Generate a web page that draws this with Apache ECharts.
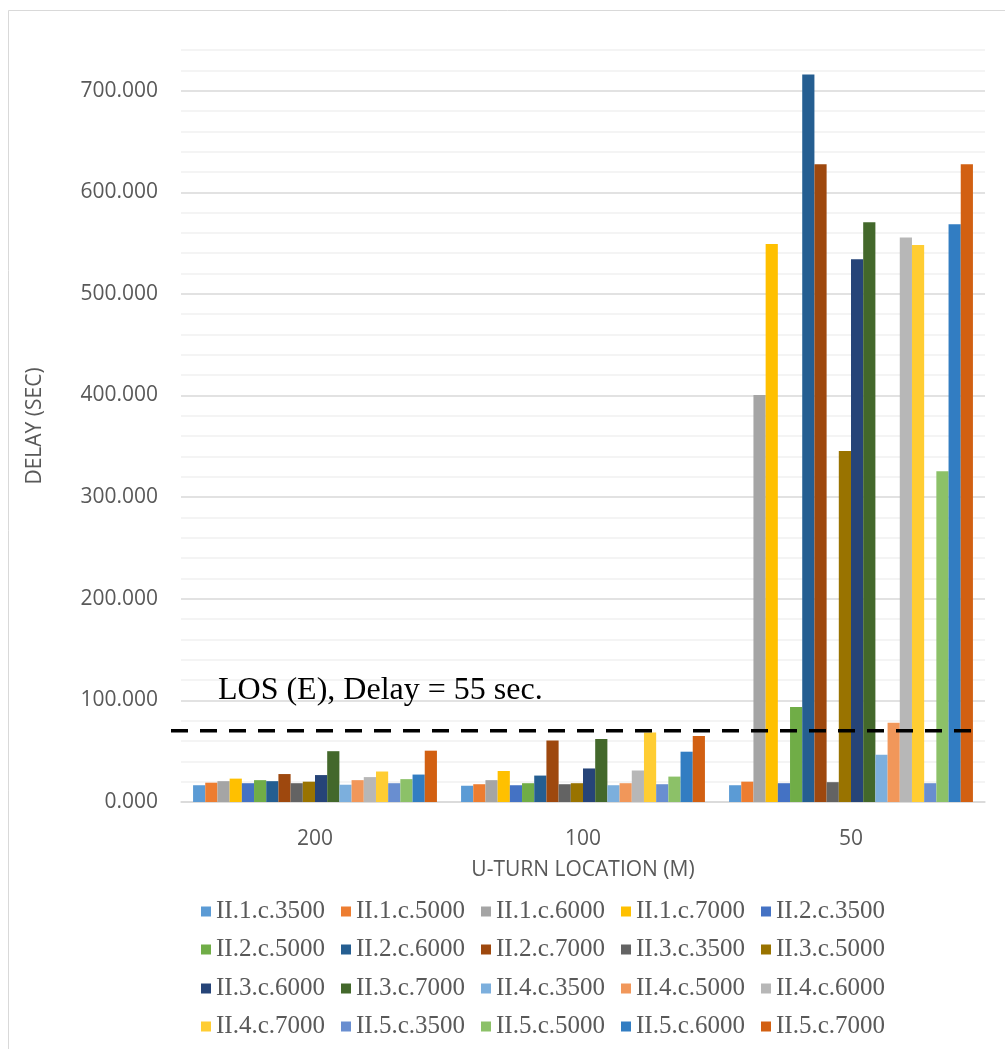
<!DOCTYPE html>
<html>
<head>
<meta charset="utf-8">
<script src="https://cdn.jsdelivr.net/npm/echarts@6/dist/echarts.min.js"></script>
<style>html,body{margin:0;padding:0;background:#fff;}#c{width:1005px;height:1049px;}</style>
</head>
<body>
<div id="c"></div>
<script>
const categories = ['200', '100', '50'];
const seriesNames = ['II.1.c.3500','II.1.c.5000','II.1.c.6000','II.1.c.7000','II.2.c.3500',
  'II.2.c.5000','II.2.c.6000','II.2.c.7000','II.3.c.3500','II.3.c.5000',
  'II.3.c.6000','II.3.c.7000','II.4.c.3500','II.4.c.5000','II.4.c.6000',
  'II.4.c.7000','II.5.c.3500','II.5.c.5000','II.5.c.6000','II.5.c.7000'];
const colors = ['#5B9BD5','#ED7D31','#A5A5A5','#FFC000','#4472C4',
  '#70AD47','#255E91','#9E480E','#636363','#997300',
  '#264478','#43682B','#7CAFDD','#F1975A','#B7B7B7',
  '#FFCD33','#698ED0','#8CC168','#327DC2','#D26012'];
const values200 = [16.5,19,20.5,23,18.5,21.5,20.5,27.5,18.5,20,26.5,50,17,21.5,24.5,30,18.5,22.5,27,50.5];
const values100 = [16,17.5,21.5,30.5,16.5,18.5,26,60.5,17.5,18.5,33,62,16.5,18.5,31,68.5,17.5,25,49.5,65];
const values50  = [16.5,20,400.5,549,18.5,93.5,716,627.5,19.5,345.5,534,570.5,46.5,78,555.5,548,18.5,325.5,568.5,627.5];
const losValue = 70;
const losText = 'LOS (E), Delay = 55 sec.';
const yTitle = 'DELAY (SEC)';
const xTitle = 'U-TURN LOCATION (M)';

const chart = echarts.init(document.getElementById('c'), null, {renderer: 'canvas'});

const series = seriesNames.map((n, i) => ({
  name: n, type: 'bar',
  data: [values200[i], values100[i], values50[i]],
  itemStyle: {color: colors[i]},
  barGap: '0%', barCategoryGap: '9%'
}));

const legendRowCenters = [912, 950, 989, 1027];
const legends = legendRowCenters.map((cy, r) => ({
  orient: 'horizontal', left: 201, top: cy - 13, padding: 0,
  itemWidth: 10, itemHeight: 10, itemGap: 16,
  icon: 'rect',
  data: [0,1,2,3,4].map(c => seriesNames[r*5 + c]),
  textStyle: {fontFamily: 'Liberation Serif', fontSize: 25, color: '#595959'},
  selectedMode: false
}));

chart.setOption({
  backgroundColor: '#ffffff',
  animation: false,
  grid: {left: 181, right: 20, top: 50, bottom: 247},
  legend: legends,
  xAxis: {
    type: 'category', data: categories,
    axisTick: {show: false},
    axisLine: {lineStyle: {color: '#D9D9D9', width: 1.5}},
    axisLabel: {fontFamily: 'Open Sans', fontSize: 21, color: '#595959', margin: 27},
    name: xTitle, nameLocation: 'middle', nameGap: 58,
    nameTextStyle: {fontFamily: 'Open Sans', fontSize: 21, color: '#595959'}
  },
  yAxis: {
    type: 'value', min: 0, max: 740, interval: 20,
    axisLine: {show: false}, axisTick: {show: false},
    axisLabel: {
      fontFamily: 'Open Sans', fontSize: 21, color: '#595959', margin: 23,
      formatter: v => (v % 100 === 0 ? v.toFixed(3) : '')
    },
    splitLine: {lineStyle: {color: ['#D9D9D9','#F0F0F0','#F0F0F0','#F0F0F0','#F0F0F0'], width: 1.5}},
    name: yTitle, nameLocation: 'middle', nameGap: 135, nameRotate: 90,
    nameTextStyle: {fontFamily: 'Open Sans', fontSize: 21, color: '#595959'}
  },
  series: series
});

const yLos = chart.convertToPixel({yAxisIndex: 0}, losValue);
chart.setOption({
  graphic: [
    {type: 'rect', shape: {x: 8.5, y: 10.5, width: 1100, height: 1100},
     style: {fill: 'none', stroke: '#D9D9D9', lineWidth: 1}, silent: true, z: 0},
    {type: 'line', shape: {x1: 171, y1: yLos, x2: 972, y2: yLos},
     style: {stroke: '#000', lineWidth: 3.5, lineDash: [17, 12]}, z: 100},
    {type: 'text', left: 218, top: 675,
     style: {text: losText, fontFamily: 'Liberation Serif', fontSize: 32, fill: '#000'}, z: 100}
  ]
});
</script>
</body>
</html>
